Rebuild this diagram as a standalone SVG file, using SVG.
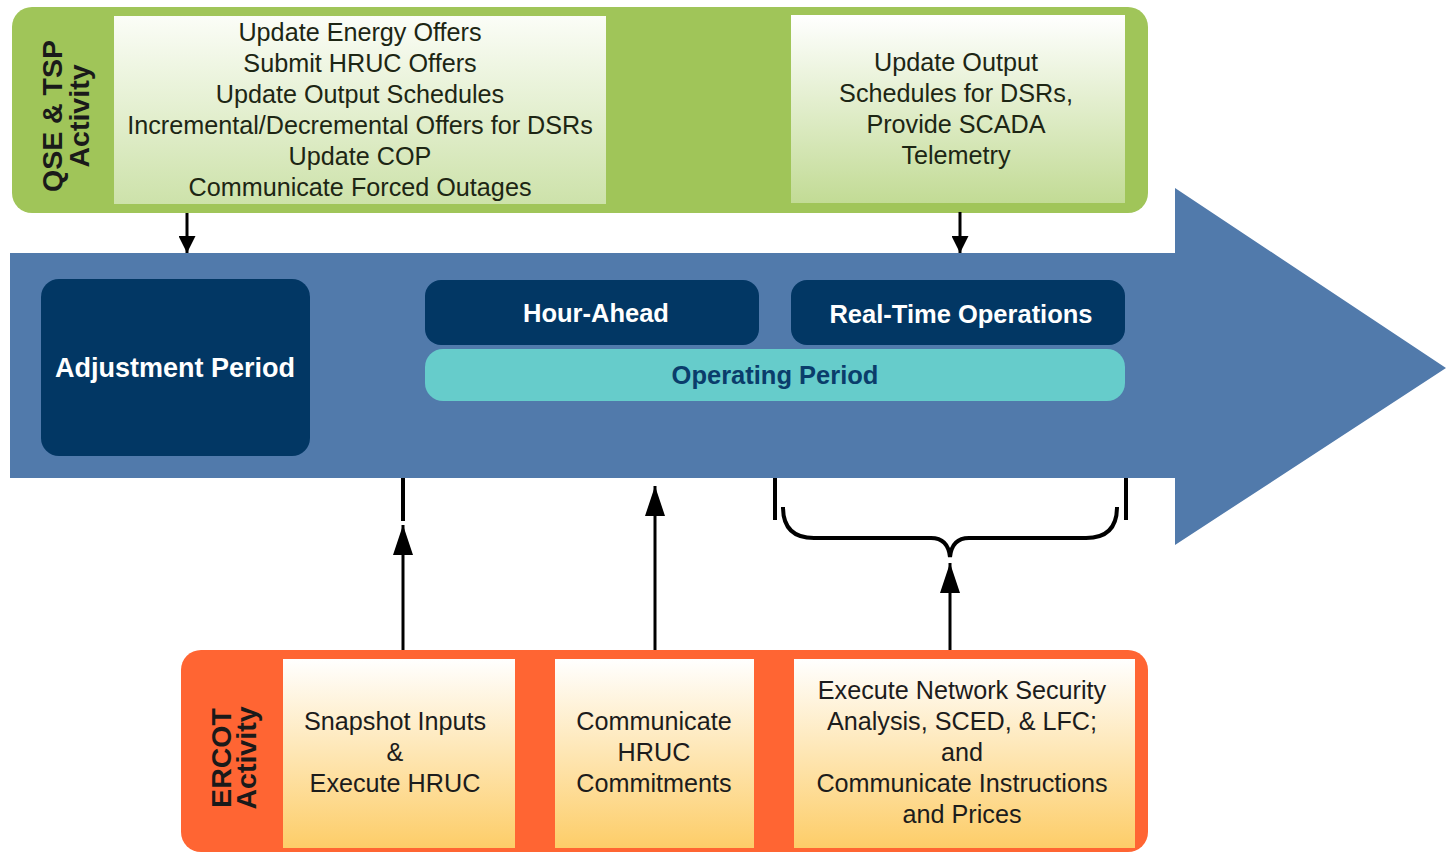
<svg xmlns="http://www.w3.org/2000/svg" width="1446" height="852" viewBox="0 0 1446 852">
  <style>
    .t { font-family: "Liberation Sans", Arial, sans-serif; font-size: 25.2px; fill: #1c1c1c; text-anchor: middle; }
    .tg { fill: #1d2614; }
    .lbl { font-family: "Liberation Sans", Arial, sans-serif; font-size: 28.5px; font-weight: bold; fill: #1a1a1a; text-anchor: middle; }
    .wb { font-family: "Liberation Sans", Arial, sans-serif; font-weight: bold; fill: #ffffff; text-anchor: middle; }
    .navy { fill: #023764; }
    .ln { stroke: #000; stroke-width: 3; fill: none; }
    .bar { stroke: #000; stroke-width: 4; fill: none; }
  </style>
  <defs>
    <linearGradient id="gGreen" x1="0" y1="0" x2="0" y2="1">
      <stop offset="0" stop-color="#ffffff"/>
      <stop offset="1" stop-color="#c2db95"/>
    </linearGradient>
    <linearGradient id="gGreen1" x1="0" y1="0" x2="0" y2="1">
      <stop offset="0" stop-color="#fbfdf7"/>
      <stop offset="1" stop-color="#cde2aa"/>
    </linearGradient>
    <linearGradient id="gOrange" x1="0" y1="0" x2="0" y2="1">
      <stop offset="0" stop-color="#ffffff"/>
      <stop offset="1" stop-color="#fdcd68"/>
    </linearGradient>
    <marker id="arrSmall" markerUnits="userSpaceOnUse" markerWidth="17" markerHeight="17" refX="17" refY="8.5" orient="auto">
      <path d="M0,0 L17,8.5 L0,17 z" fill="#000"/>
    </marker>
    <marker id="arrBig" markerUnits="userSpaceOnUse" markerWidth="30" markerHeight="20" refX="30" refY="10" orient="auto">
      <path d="M0,0 L30,10 L0,20 z" fill="#000"/>
    </marker>
  </defs>

  <!-- QSE & TSP Activity panel -->
  <g id="qse-panel">
    <rect x="12" y="7" width="1136" height="206" rx="20" fill="#a0c559"/>
    <text class="lbl" transform="translate(62,116) rotate(-90)">QSE &amp; TSP</text>
    <text class="lbl" transform="translate(89,116) rotate(-90)">Activity</text>
  </g>
  <g id="qse-box1">
    <rect x="114" y="16" width="492" height="188" fill="url(#gGreen1)"/>
    <text class="t tg" x="360" y="41">Update Energy Offers</text>
    <text class="t tg" x="360" y="72">Submit HRUC Offers</text>
    <text class="t tg" x="360" y="103">Update Output Schedules</text>
    <text class="t tg" x="360" y="134">Incremental/Decremental Offers for DSRs</text>
    <text class="t tg" x="360" y="165">Update COP</text>
    <text class="t tg" x="360" y="196">Communicate Forced Outages</text>
  </g>
  <g id="qse-box2">
    <rect x="791" y="15" width="334" height="188" fill="url(#gGreen)"/>
    <text class="t tg" x="956" y="71">Update Output</text>
    <text class="t tg" x="956" y="102">Schedules for DSRs,</text>
    <text class="t tg" x="956" y="133">Provide SCADA</text>
    <text class="t tg" x="956" y="164">Telemetry</text>
  </g>

  <!-- Timeline arrow -->
  <g id="timeline">
    <polygon points="10,253 1175,253 1175,188 1446,368 1175,545 1175,478 10,478" fill="#517aab"/>
  </g>
  <g id="adjustment-period">
    <rect class="navy" x="41" y="279" width="269" height="177" rx="18"/>
    <text class="wb" x="175" y="377" font-size="27">Adjustment Period</text>
  </g>
  <g id="hour-ahead">
    <rect class="navy" x="425" y="280" width="334" height="65" rx="16"/>
    <text class="wb" x="596" y="322" font-size="25.5">Hour-Ahead</text>
  </g>
  <g id="real-time">
    <rect class="navy" x="791" y="280" width="334" height="65" rx="16"/>
    <text class="wb" x="961" y="323" font-size="25.5">Real-Time Operations</text>
  </g>
  <g id="operating-period">
    <rect x="425" y="349" width="700" height="52" rx="18" fill="#66cccb"/>
    <text class="wb" x="775" y="384" font-size="25.5" style="fill:#0a3d6b">Operating Period</text>
  </g>

  <!-- ERCOT Activity panel -->
  <g id="ercot-panel">
    <rect x="181" y="650" width="967" height="202" rx="20" fill="#ff6533"/>
    <text class="lbl" transform="translate(231,758) rotate(-90)">ERCOT</text>
    <text class="lbl" transform="translate(256,758) rotate(-90)">Activity</text>
  </g>
  <g id="ercot-box1">
    <rect x="283" y="659" width="232" height="189" fill="url(#gOrange)"/>
    <text class="t" x="395" y="730">Snapshot Inputs</text>
    <text class="t" x="395" y="761">&amp;</text>
    <text class="t" x="395" y="792">Execute HRUC</text>
  </g>
  <g id="ercot-box2">
    <rect x="555" y="659" width="199" height="189" fill="url(#gOrange)"/>
    <text class="t" x="654" y="730">Communicate</text>
    <text class="t" x="654" y="761">HRUC</text>
    <text class="t" x="654" y="792">Commitments</text>
  </g>
  <g id="ercot-box3">
    <rect x="794" y="659" width="341" height="189" fill="url(#gOrange)"/>
    <text class="t" x="962" y="699">Execute Network Security</text>
    <text class="t" x="962" y="730">Analysis, SCED, &amp; LFC;</text>
    <text class="t" x="962" y="761">and</text>
    <text class="t" x="962" y="792">Communicate Instructions</text>
    <text class="t" x="962" y="823">and Prices</text>
  </g>

  <!-- Connectors -->
  <g id="connectors">
    <line class="ln" x1="187" y1="213" x2="187" y2="253" marker-end="url(#arrSmall)"/>
    <line class="ln" x1="960" y1="212" x2="960" y2="253" marker-end="url(#arrSmall)"/>
    <line class="bar" x1="403" y1="478" x2="403" y2="521"/>
    <line class="ln" x1="403" y1="650" x2="403" y2="525" marker-end="url(#arrBig)"/>
    <line class="ln" x1="655" y1="650" x2="655" y2="486" marker-end="url(#arrBig)"/>
    <line class="bar" x1="775" y1="478" x2="775" y2="520"/>
    <line class="bar" x1="1126" y1="478" x2="1126" y2="520"/>
    <path class="bar" d="M783,507 Q783,538 814,538 L931,538 Q948,538 950,557 Q952,538 969,538 L1086,538 Q1117,538 1117,507"/>
    <line class="ln" x1="950" y1="650" x2="950" y2="563" marker-end="url(#arrBig)"/>
  </g>
</svg>
